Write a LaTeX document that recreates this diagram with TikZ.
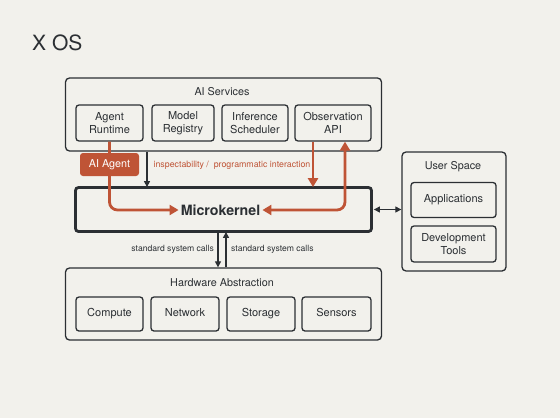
\documentclass[tikz,border=0pt]{standalone}
\usepackage{fontspec}
\setmainfont{TeX Gyre Heros}
\usetikzlibrary{arrows.meta,calc}
\definecolor{bg}{HTML}{F2F1EC}
\definecolor{dk}{HTML}{2B2F33}
\definecolor{orn}{HTML}{BF5436}
\tikzset{
  box/.style={draw=dk, line width=1.3pt, rounded corners=3pt, inner sep=0pt, align=center, text=dk, font=\fontsize{11}{12.5}\selectfont},
  one/.style={text height=8pt, text depth=2.5pt},
  outer/.style={draw=dk, line width=1.3pt, rounded corners=4pt, inner sep=0pt},
  lbl/.style={text=dk, font=\fontsize{10.8}{12}\selectfont, inner sep=0pt},
  small/.style={text=dk, font=\fontsize{8.6}{9.5}\selectfont, inner sep=0pt},
  oline/.style={draw=orn, line width=2.8pt, rounded corners=8pt},
  otip/.style={-{Triangle[length=9pt,width=10pt]}},
  oboth/.style={{Triangle[length=9pt,width=10pt]}-{Triangle[length=9pt,width=10pt]}},
  bline/.style={draw=dk, line width=1.1pt},
  btip/.style={-{Triangle[length=6pt,width=6pt]}},
  bboth/.style={{Triangle[length=6pt,width=6pt]}-{Triangle[length=6pt,width=6pt]}}
}
\begin{document}
\begin{tikzpicture}[x=1pt,y=-1pt]
\fill[bg] (0,0) rectangle (560,418);
\useasboundingbox (0,0) rectangle (560,418);

\node[anchor=west, text=dk, font=\fontsize{21}{23}\selectfont, inner sep=0pt] (title) at (32,43) {X OS};

% AI Services
\node[outer, minimum width=316pt, minimum height=73pt] (svc) at (223.5,114.5) {};
\node[lbl] (svclbl) at (222,92) {AI Services};
\node[box, minimum width=67pt, minimum height=36pt] (ar) at (109.5,123) {Agent\\Runtime};
\node[box, minimum width=62pt, minimum height=36pt] (mr) at (183,123) {Model\\Registry};
\node[box, minimum width=66pt, minimum height=36pt] (is) at (255,123) {Inference\\Scheduler};
\node[box, minimum width=76pt, minimum height=36pt] (obs) at (333,123) {Observation\\API};

% Microkernel
\node[draw=dk, line width=2.8pt, rounded corners=3pt, minimum width=296pt, minimum height=44pt] (mk) at (223.5,209.5) {};
\node[text=dk, font=\fontsize{14.2}{16}\bfseries\selectfont, inner sep=2pt] (mklbl) at (220.5,210) {Microkernel};

% orange connections
\coordinate (od) at (313,0);
\coordinate (ou) at (345,0);
\draw[oline, otip] (ar.south) |- (mklbl.west);
\draw[draw=orn, line width=2.8pt, otip] (obs.south -| od) -- ([yshift=-1pt]mk.north -| od);
\draw[oline, oboth] (mklbl.east) -| (obs.south -| ou);

\node[fill=orn, rounded corners=3pt, text=white, minimum width=59pt, minimum height=23pt, inner sep=0pt, font=\fontsize{10.8}{12}\selectfont] (agent) at (109.5,164.5) {AI Agent};
\node[text=orn, font=\fontsize{8.8}{10}\selectfont, inner sep=0pt] (insp) at (232,165) {inspectability / \ programmatic interaction};

\coordinate (a1) at (147,0);
\draw[bline, btip] (svc.south -| a1) -- ([yshift=-1pt]mk.north -| a1);

% User Space
\node[outer, minimum width=104pt, minimum height=119pt] (us) at (454,211.5) {};
\node[lbl] (uslbl) at (453,167) {User Space};
\node[box, one, minimum width=85pt, minimum height=35pt] (apps) at (453.5,200) {Applications};
\node[box, minimum width=85pt, minimum height=36pt] (dev) at (453.5,244) {Development\\Tools};
\draw[bline, bboth] ([xshift=1pt]mk.east) -- (us.west |- mk.east);

% Hardware
\node[outer, minimum width=316pt, minimum height=72pt] (hw) at (223.5,304) {};
\node[lbl] (hwlbl) at (222,283) {Hardware Abstraction};
\node[box, one, minimum width=67pt, minimum height=34pt] (cp) at (109.5,314) {Compute};
\node[box, one, minimum width=68pt, minimum height=34pt] (nw) at (185,314) {Network};
\node[box, one, minimum width=68pt, minimum height=34pt] (st) at (261,314) {Storage};
\node[box, one, minimum width=69pt, minimum height=34pt] (sn) at (336.5,314) {Sensors};

\coordinate (d1) at (218,0);
\coordinate (u1) at (226,0);
\draw[bline, btip] ([yshift=1pt]mk.south -| d1) -- (hw.north -| d1);
\draw[bline, btip] (hw.north -| u1) -- ([yshift=1pt]mk.south -| u1);
\node[small, anchor=east] (sc1) at (214,249) {standard system calls};
\node[small, anchor=west] (sc2) at (231,249) {standard system calls};
\end{tikzpicture}
\end{document}
